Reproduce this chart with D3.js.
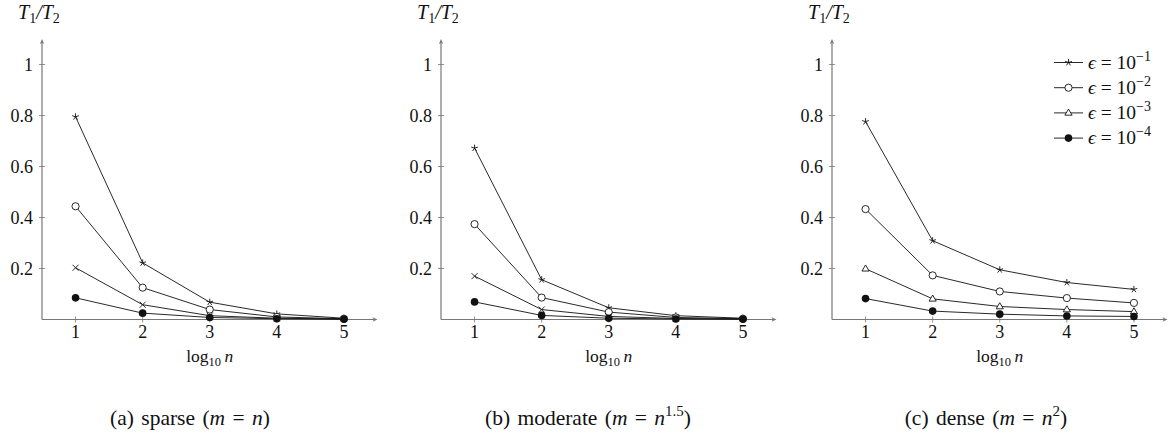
<!DOCTYPE html>
<html><head><meta charset="utf-8">
<script src="https://cdn.jsdelivr.net/npm/d3@7"></script>
<style>body{margin:0;background:#fff;}</style>
</head>
<body><svg id="c" width="1176" height="443"></svg>
<script>
const xValues = [1, 2, 3, 4, 5];
const yTicks = [0.2, 0.4, 0.6, 0.8, 1];
const seriesNames = ["-1", "-2", "-3", "-4"];
// panel (a) sparse
const sparseE1 = [0.795, 0.222, 0.068, 0.022, 0.005];
const sparseE2 = [0.444, 0.125, 0.039, 0.010, 0.003];
const sparseE3 = [0.203, 0.058, 0.015, 0.005, 0.002];
const sparseE4 = [0.085, 0.025, 0.008, 0.003, 0.001];
// panel (b) moderate
const moderateE1 = [0.672, 0.156, 0.046, 0.015, 0.005];
const moderateE2 = [0.374, 0.086, 0.029, 0.008, 0.003];
const moderateE3 = [0.170, 0.039, 0.012, 0.004, 0.002];
const moderateE4 = [0.069, 0.016, 0.005, 0.002, 0.001];
// panel (c) dense
const denseE1 = [0.776, 0.309, 0.195, 0.145, 0.118];
const denseE2 = [0.433, 0.173, 0.110, 0.084, 0.065];
const denseE3 = [0.199, 0.081, 0.051, 0.039, 0.031];
const denseE4 = [0.082, 0.033, 0.021, 0.014, 0.012];

const panels = [
  {left: 42, caption: ["(a) sparse (", "m", " = ", "n", ")", null], cx: 190,
   series: [sparseE1, sparseE2, sparseE3, sparseE4], markers: ["star","circle","cross","dot"]},
  {left: 441, caption: ["(b) moderate (", "m", " = ", "n", "", "1.5", ")"], cx: 588,
   series: [moderateE1, moderateE2, moderateE3, moderateE4], markers: ["star","circle","cross","dot"]},
  {left: 832, caption: ["(c) dense (", "m", " = ", "n", "", "2", ")"], cx: 986,
   series: [denseE1, denseE2, denseE3, denseE4], markers: ["star","circle","tri","dot"]}
];

const svg = d3.select("#c");
const axisColor = "#777";
const W = 335.5;
const y = d3.scaleLinear().domain([0, 1.1]).range([319.5, 39]);

function drawMarker(g, type, cx, cy) {
  if (type === "circle") {
    g.append("circle").attr("cx", cx).attr("cy", cy).attr("r", 3.6)
      .attr("fill", "#fff").attr("stroke", "#111").attr("stroke-width", 0.9);
  } else if (type === "dot") {
    g.append("circle").attr("cx", cx).attr("cy", cy).attr("r", 3.8).attr("fill", "#111");
  } else if (type === "cross") {
    const s = 3;
    g.append("path").attr("d", `M${cx-s},${cy-s}L${cx+s},${cy+s}M${cx-s},${cy+s}L${cx+s},${cy-s}`)
      .attr("stroke", "#111").attr("stroke-width", 0.9);
  } else if (type === "star") {
    const s = 3.5;
    let d = "";
    for (let k = 0; k < 5; k++) {
      const a = -Math.PI/2 + k*2*Math.PI/5;
      d += `M${cx},${cy}L${cx + s*Math.cos(a)},${cy + s*Math.sin(a)}`;
    }
    g.append("path").attr("d", d).attr("stroke", "#111").attr("stroke-width", 0.9);
  } else if (type === "tri") {
    const s = 3.8;
    g.append("path").attr("d", `M${cx},${cy-s}L${cx+s*0.95},${cy+s*0.6}L${cx-s*0.95},${cy+s*0.6}Z`)
      .attr("fill", "#fff").attr("stroke", "#111").attr("stroke-width", 0.9);
  }
}

function txt(g) { return g.append("text").style("font-family", "Liberation Serif").attr("fill", "#111"); }

panels.forEach(p => {
  const g = svg.append("g");
  const x = d3.scaleLinear().domain([0.5, 5.5]).range([p.left, p.left + W]);
  g.append("line").attr("x1", p.left).attr("x2", p.left + W - 2).attr("y1", y(0)).attr("y2", y(0))
    .attr("stroke", axisColor).attr("stroke-width", 1.2);
  g.append("path").attr("d", `M${p.left+W},${y(0)}l-5,-2.2l1.3,2.2l-1.3,2.2z`).attr("fill", axisColor);
  g.append("line").attr("x1", p.left).attr("x2", p.left).attr("y1", y(0)).attr("y2", y(1.1) + 2)
    .attr("stroke", axisColor).attr("stroke-width", 1.2);
  g.append("path").attr("d", `M${p.left},${y(1.1)}l-2.2,5l2.2,-1.3l2.2,1.3z`).attr("fill", axisColor);
  yTicks.forEach(t => {
    g.append("line").attr("x1", p.left - 3).attr("x2", p.left + 3).attr("y1", y(t)).attr("y2", y(t))
      .attr("stroke", axisColor).attr("stroke-width", 0.8);
    txt(g).attr("x", p.left - 9).attr("y", y(t) + 6).attr("text-anchor", "end")
      .attr("font-size", 18).text(d3.format("")(t));
  });
  xValues.forEach(v => {
    g.append("line").attr("x1", x(v)).attr("x2", x(v)).attr("y1", y(0) - 3).attr("y2", y(0) + 3)
      .attr("stroke", axisColor).attr("stroke-width", 0.8);
    txt(g).attr("x", x(v)).attr("y", y(0) + 18).attr("text-anchor", "middle")
      .attr("font-size", 18).text(v);
  });
  const yl = txt(g).attr("x", p.left - 24).attr("y", 19).attr("font-size", 20);
  yl.append("tspan").attr("font-style", "italic").text("T");
  yl.append("tspan").attr("font-size", 14).attr("dy", 3.5).text("1");
  yl.append("tspan").attr("dy", -3.5).attr("font-style", "italic").text("/T");
  yl.append("tspan").attr("font-size", 14).attr("dy", 3.5).text("2");
  const xl = txt(g).attr("x", x(3)).attr("y", 362).attr("text-anchor", "middle").attr("font-size", 17.5);
  xl.append("tspan").text("log");
  xl.append("tspan").attr("font-size", 12.5).attr("dy", 3.5).text("10");
  xl.append("tspan").attr("dy", -3.5).text("\u2009");
  xl.append("tspan").attr("font-style", "italic").text("n");
  const line = d3.line().x((d, i) => x(xValues[i])).y(d => y(d));
  p.series.forEach(s => {
    g.append("path").attr("d", line(s)).attr("fill", "none").attr("stroke", "#111").attr("stroke-width", 0.9);
  });
  p.series.forEach((s, si) => {
    s.forEach((v, i) => drawMarker(g, p.markers[si], x(xValues[i]), y(v)));
  });
  const c = p.caption;
  const ct = txt(g).attr("x", p.cx).attr("y", 425).attr("text-anchor", "middle").attr("font-size", 21.5)
    .style("word-spacing", "2px");
  ct.append("tspan").text(c[0]);
  ct.append("tspan").attr("font-style", "italic").text(c[1]);
  ct.append("tspan").text(c[2]);
  ct.append("tspan").attr("font-style", "italic").text(c[3]);
  if (c[5]) {
    ct.append("tspan").attr("font-size", 15).attr("dy", -9).text(c[5]);
    ct.append("tspan").attr("dy", 9).text(c[6]);
  } else {
    ct.append("tspan").text(c[4]);
  }
});

const legendMarkers = ["star", "circle", "tri", "dot"];
const lg = svg.append("g");
seriesNames.forEach((nm, i) => {
  const ly = 62.5 + i * 25.2;
  lg.append("line").attr("x1", 1054).attr("x2", 1083).attr("y1", ly).attr("y2", ly)
    .attr("stroke", "#111").attr("stroke-width", 0.9);
  drawMarker(lg, legendMarkers[i], 1068.5, ly);
  const t = txt(lg).attr("x", 1088).attr("y", ly + 6).attr("font-size", 19.5);
  t.append("tspan").attr("font-style", "italic").text("\u03F5");
  t.append("tspan").text(" = 10");
  t.append("tspan").attr("font-size", 14).attr("dy", -8).text("\u2212" + nm.slice(1));
});
</script></body></html>
